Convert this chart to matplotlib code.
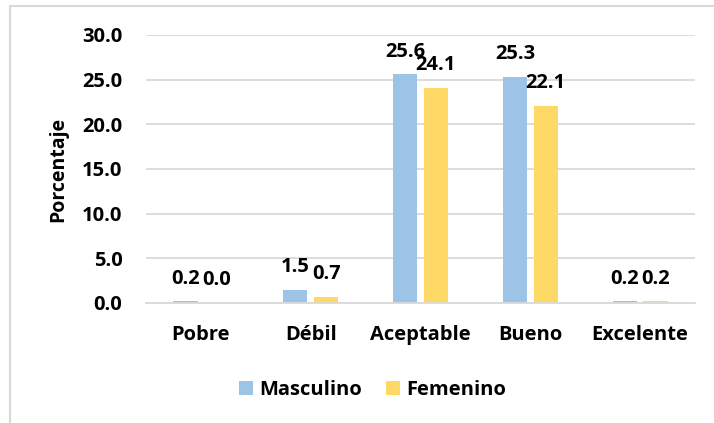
import matplotlib.pyplot as plt
import numpy as np
from matplotlib.patches import Rectangle

plt.rcParams['font.family'] = ['Open Sans', 'DejaVu Sans']
plt.rcParams['font.weight'] = 'bold'

# Data
categories = ['Pobre', 'Débil', 'Aceptable', 'Bueno', 'Excelente']
masculino = [0.2, 1.5, 25.6, 25.3, 0.2]
femenino = [0.0, 0.7, 24.1, 22.1, 0.2]
series_names = ['Masculino', 'Femenino']
y_ticks = [0, 5, 10, 15, 20, 25, 30]

blue = '#9DC3E6'
yellow = '#FFD966'
grid_gray = '#D9D9D9'
fs = 14.5

fig = plt.figure(figsize=(7.14, 4.23), dpi=100)
ax = fig.add_axes([0.2045, 0.2837, 0.769, 0.6336])

x = np.arange(len(categories))
w = 0.22
off = 0.14
b1 = ax.bar(x - off, masculino, w, color=blue, label=series_names[0])
b2 = ax.bar(x + off, femenino, w, color=yellow, label=series_names[1])

ax.bar_label(b1, fmt='%.1f', padding=9, fontsize=fs, fontweight='bold')
ax.bar_label(b2, fmt='%.1f', padding=9, fontsize=fs, fontweight='bold')

ax.set_xlim(-0.5, len(categories) - 0.5)
ax.set_ylim(0, 30)
ax.set_yticks(y_ticks)
ax.set_yticklabels([f'{v:.1f}' for v in y_ticks])
ax.set_xticks(x)
ax.set_xticklabels(categories)
ax.tick_params(axis='y', length=0, pad=17, labelsize=fs)
ax.tick_params(axis='x', length=0, pad=16, labelsize=fs)

ax.yaxis.grid(True, color=grid_gray, linewidth=1.3)
ax.set_axisbelow(True)
for s in ['top', 'right', 'left']:
    ax.spines[s].set_visible(False)
ax.spines['bottom'].set_color(grid_gray)
ax.spines['bottom'].set_linewidth(1.3)

ax.set_ylabel('Porcentaje', fontsize=14, fontweight='bold')
ax.yaxis.set_label_coords(-0.142, 0.5)

fig.legend(loc='center', bbox_to_anchor=(0.522, 0.078), ncol=2, frameon=False,
           fontsize=fs, handlelength=0.7, handleheight=0.7, handletextpad=0.3,
           columnspacing=1.2)

# outer chart border (light gray)
fig.add_artist(Rectangle((10 / 714, -0.1), 1.2, 1.1 - 6 / 423, transform=fig.transFigure,
                         fill=False, edgecolor=grid_gray, linewidth=1.5))

fig.savefig('out.png', dpi=100)
